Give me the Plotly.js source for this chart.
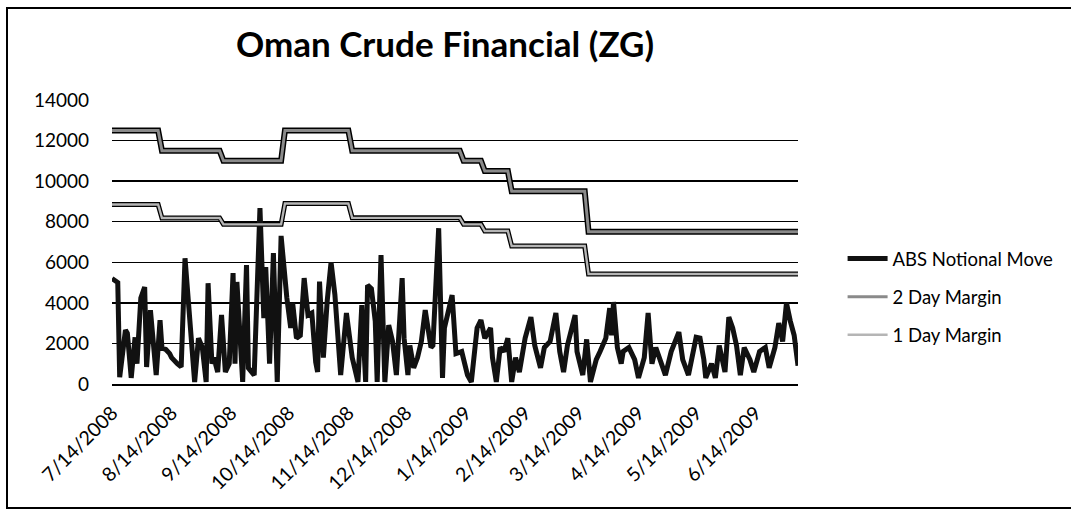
<!DOCTYPE html>
<html>
<head>
<meta charset="utf-8">
<script src="https://cdn.plot.ly/plotly-3.0.1.min.js"></script>
<style>
  html, body { margin: 0; padding: 0; background: #fff; overflow: hidden; }
  #frame { position: absolute; left: 6px; top: 7px; width: 1090px; height: 502px; border: 2px solid #000; box-sizing: border-box; pointer-events: none; }
  #chart { position: absolute; left: 0; top: 0; width: 1071px; height: 518px; }
</style>
</head>
<body>
<div id="chart"></div>
<div id="frame"></div>
<script>
// Dates are given as day offsets from the first date, 7/14/2008
const startDate = [2008, 6, 14];

// ABS Notional Move
const absDay = [0,3,4,7,8,10,12,13,15,17,18,20,23,25,26,28,30,31,34,36,38,41,43,45,47,49,50,52,53,55,57,59,61,63,64,65,68,70,71,74,75,77,79,80,82,84,86,88,91,93,94,96,98,100,102,104,106,107,108,110,112,114,116,118,119,122,124,125,128,130,132,133,135,137,138,140,142,144,146,148,151,152,154,155,157,159,161,163,166,167,170,172,173,177,179,182,185,187,190,192,194,197,198,200,202,204,206,208,210,212,215,218,220,223,225,228,231,233,235,237,241,242,245,247,249,252,254,257,259,260,261,263,265,266,269,272,274,277,279,281,283,285,288,291,293,295,297,300,304,306,308,309,312,314,316,319,321,323,325,327,329,332,334,337,340,342,345,347,349,351,353,355,357];
const absValue = [5200,5000,340,2660,2500,300,2300,1000,4240,4780,840,3640,440,3150,1770,1700,1500,1300,1000,840,6200,2260,100,2260,1800,100,4970,1000,1300,590,3400,590,1000,5470,1000,5030,100,5860,790,440,3000,8670,3250,5760,1000,6450,100,7300,4240,2760,4000,2260,2400,5220,3400,3500,1080,590,5050,1300,4100,6000,4400,2100,440,3500,1900,1300,100,3890,100,4870,4700,3100,100,6350,100,2900,2100,440,5220,2260,440,1900,800,1300,2100,3640,1800,1900,7680,300,2760,4380,1500,1600,440,100,2760,3150,2260,2760,1300,100,1800,1600,2260,100,1300,590,2260,3300,1900,800,1800,2100,3500,1600,590,1900,3400,1600,440,2200,100,1200,1600,2260,3740,2400,4040,1800,1000,1600,1800,1200,300,1300,3500,1000,1800,1300,440,1600,2100,2560,1200,440,2300,2260,1200,300,1000,300,1900,590,3300,2760,1900,440,1800,1200,590,1600,1800,800,1800,3000,2100,3990,3100,2400,900];

// Margins (level start / end days)
const marginDay = [0,24,26,56,58,88,90,123,125,181,183,192,194,206,208,246,248,357];
const margin2Day = [12500,12500,11500,11500,11000,11000,12500,12500,11500,11500,11000,11000,10500,10500,9500,9500,7500,7500];
const margin1Day = [8850,8850,8180,8180,7870,7870,8900,8900,8190,8190,7870,7870,7540,7540,6800,6800,5420,5420];

const seriesNames = ['ABS Notional Move', '2 Day Margin', '1 Day Margin'];
const titleText = 'Oman Crude Financial (ZG)';
const yTicks = [0, 2000, 4000, 6000, 8000, 10000, 12000, 14000];

function toDate(d) {
  const t = new Date(Date.UTC(startDate[0], startDate[1], startDate[2]) + d * 86400000);
  return t.toISOString().slice(0, 10);
}
const absX = absDay.map(toDate);
const marginX = marginDay.map(toDate);

const FONT = 'Lato, "Open Sans", sans-serif';

const traces = [
  { x: marginX, y: margin2Day, mode: 'lines', line: { color: '#000', width: 6 }, showlegend: false, hoverinfo: 'skip' },
  { x: marginX, y: margin1Day, mode: 'lines', line: { color: '#000', width: 5 }, showlegend: false, hoverinfo: 'skip' },
  { x: absX, y: absValue, name: seriesNames[0], legendgroup: 'a', legendrank: 1, mode: 'lines', line: { color: '#111', width: 5 } },
  { x: marginX, y: margin2Day, name: seriesNames[1], legendgroup: 'b', legendrank: 2, mode: 'lines', line: { color: '#8a8a8a', width: 3 } },
  { x: marginX, y: margin1Day, name: seriesNames[2], legendgroup: 'c', legendrank: 3, mode: 'lines', line: { color: '#b5b5b5', width: 2.4 } }
];

const layout = {
  width: 1071, height: 518,
  paper_bgcolor: '#fff', plot_bgcolor: '#fff',
  margin: { l: 112, r: 268, t: 100, b: 134 },
  font: { family: FONT, color: '#000', size: 17 },
  title: {
    text: '<b>' + titleText + '</b>',
    font: { family: FONT, size: 35, color: '#000' },
    xref: 'container', x: 0.4155, xanchor: 'center',
    yref: 'container', y: 0.913, yanchor: 'middle'
  },
  xaxis: {
    type: 'date',
    range: [toDate(0), toDate(357)],
    tick0: toDate(0), dtick: 'M1',
    tickformat: '%-m/%-d/%Y',
    tickangle: -45,
    tickfont: { family: FONT, size: 19.5, color: '#000' },
    ticklabelstandoff: 8,
    showgrid: false,
    showline: true, linecolor: '#000', linewidth: 2,
    ticks: '', zeroline: false,
    fixedrange: true
  },
  yaxis: {
    range: [0, 14000],
    tickvals: yTicks,
    tickformat: 'd',
    tickfont: { family: FONT, size: 19, color: '#000' },
    showgrid: true, gridcolor: '#000', gridwidth: 1.5,
    showline: false, zeroline: true, zerolinecolor: '#000', zerolinewidth: 2,
    ticks: '', ticklabelstandoff: 22,
    fixedrange: true
  },
  showlegend: true,
  legend: {
    x: 1.065, xanchor: 'left', y: 0.306, yanchor: 'middle',
    font: { family: FONT, size: 18.5, color: '#000' },
    bgcolor: 'rgba(0,0,0,0)', borderwidth: 0,
    traceorder: 'grouped', tracegroupgap: 11,
    itemwidth: 40
  },
  hovermode: false
};

Plotly.newPlot('chart', traces, layout, { staticPlot: true, displayModeBar: false });
</script>
</body>
</html>
